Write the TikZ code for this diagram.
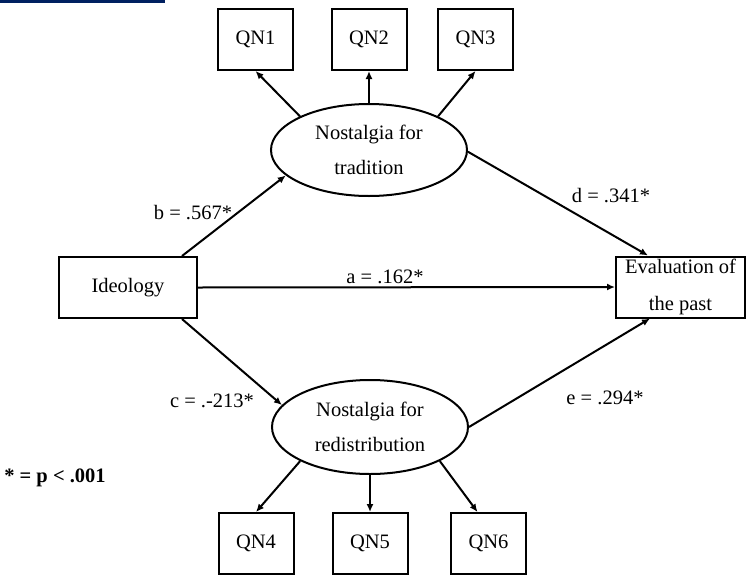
\documentclass[tikz,border=0pt]{standalone}
\usepackage{fontspec}
\setmainfont{Liberation Serif}
\usepackage{tikz}
\usetikzlibrary{arrows.meta,positioning,shapes}
\definecolor{ink} {HTML}{000000}
\definecolor{navy}{HTML}{002060}
\tikzset{
  obsbox/.style  ={draw=ink, line width=2pt, minimum width=75pt, minimum height=61pt,
                   inner sep=0pt, align=center, font=\fontsize{20.5}{37}\selectfont},
  latent/.style  ={draw=ink, ellipse, line width=2pt, minimum width=196pt, minimum height=92pt,
                   inner sep=0pt, align=center, font=\fontsize{20.5}{35}\selectfont},
  pathlbl/.style ={inner sep=0pt, font=\fontsize{20.5}{24}\selectfont},
  patharr/.style ={-{Latex[length=8pt,width=7pt]}, line width=2pt, draw=ink},
}

\begin{document}
\begin{tikzpicture}[x=1pt,y=-1pt]
    \useasboundingbox (0,0) rectangle (747,576);
    \fill[navy] (0,0) rectangle (165,3);
    % indicators
    \node[obsbox] (qn1) at (255.5,39.5) {QN1};
    \node[obsbox] (qn2) at (369,39.5) {QN2};
    \node[obsbox] (qn3) at (475.5,39.5) {QN3};
    \node[obsbox] (qn4) at (256,543.5) {QN4};
    \node[obsbox] (qn5) at (370,543.5) {QN5};
    \node[obsbox] (qn6) at (488.5,543.5) {QN6};
    % latent factors
    \node[latent] (trad) at (369,150) {Nostalgia for\\tradition};
    \node[latent,minimum height=94pt] (redis) at (370,427) {Nostalgia for\\redistribution};
    % observed
    \node[obsbox,minimum width=138pt] (ideo) at (128,287.5) {Ideology};
    \node[obsbox,minimum width=129pt] (eval) at (680.5,287) {Evaluation of\\the past};
    % paths
    \draw[patharr] (trad.154) -- (qn1.south);
    \draw[patharr] (trad.north) -- (qn2.south);
    \draw[patharr] (trad.26) -- (qn3.south);
    \draw[patharr] (redis.206) -- (qn4.north);
    \draw[patharr] (redis.south) -- (qn5.north);
    \draw[patharr] (redis.334) -- ([xshift=-11pt]qn6.north);
    \draw[patharr] ([xshift=-16pt]ideo.north east) -- (trad.197);
    \draw[patharr] ([xshift=-16pt]ideo.south east) -- (redis.166);
    \draw[patharr] (ideo.east) -- (eval.west);
    \draw[patharr] (trad.-1) -- ([xshift=33pt]eval.north west);
    \draw[patharr] (redis.east) -- ([xshift=35pt]eval.south west);
    % coefficients
    \node[pathlbl] (lb) at (193,213) {b = .567*};
    \node[pathlbl] (la) at (385,277) {a = .162*};
    \node[pathlbl] (ld) at (611,196) {d = .341*};
    \node[pathlbl] (lc) at (212,401) {c = .-213*};
    \node[pathlbl] (le) at (605,398) {e = .294*};
    \node[pathlbl,font=\fontsize{20.5}{24}\selectfont\bfseries] (sig) at (55,478) {* = p < .001};
  \end{tikzpicture}
\end{document}
